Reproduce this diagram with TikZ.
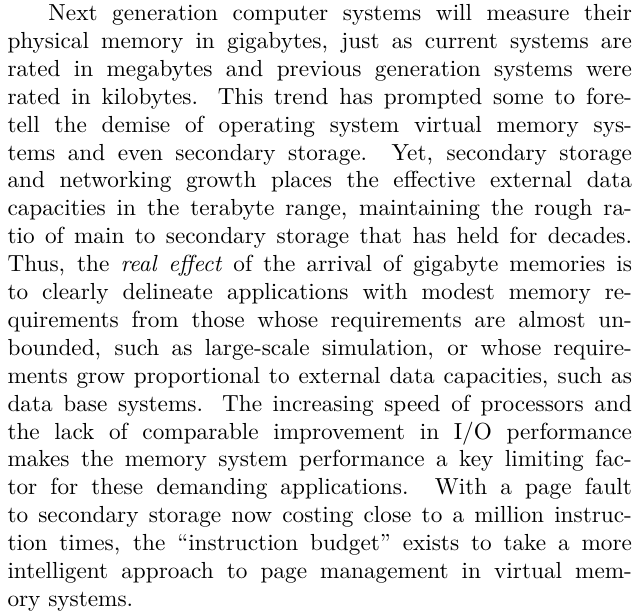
\documentclass[tikz,border=0pt]{standalone}
\newlength\pxu
\setlength\pxu{0.43011pt}
\tikzset{textline/.style={anchor=base west, inner sep=0pt, outer sep=0pt, font=\fontsize{10}{12}\selectfont}}
\newcommand\fulltextline[1]{\makebox[624.5\pxu][s]{#1}}
\begin{document}
\begin{tikzpicture}[x=0.43011pt, y=-0.43011pt]
\useasboundingbox (0,0) rectangle (640,613);
\node[textline] (l1) at (48.5,20.5) {\makebox[583.5\pxu][s]{Next generation computer systems will measure their}};
\node[textline] (l2) at (7.5,48.4) {\fulltextline{physical memory in gigabytes, just as current systems are}};
\node[textline] (l3) at (7.5,76.3) {\fulltextline{rated in megabytes and previous generation systems were}};
\node[textline] (l4) at (7.5,104.2) {\fulltextline{rated in kilobytes. This trend has prompted some to fore-}};
\node[textline] (l5) at (7.5,132.1) {\fulltextline{tell the demise of operating system virtual memory sys-}};
\node[textline] (l6) at (7.5,160.0) {\fulltextline{tems and even secondary storage. Yet, secondary storage}};
\node[textline] (l7) at (7.5,187.9) {\fulltextline{and networking growth places the effective external data}};
\node[textline] (l8) at (7.5,215.8) {\fulltextline{capacities in the terabyte range, maintaining the rough ra-}};
\node[textline] (l9) at (7.5,243.7) {\fulltextline{tio of main to secondary storage that has held for decades.}};
\node[textline] (l10) at (7.5,271.6) {\fulltextline{Thus, the \textit{real effect} of the arrival of gigabyte memories is}};
\node[textline] (l11) at (7.5,299.5) {\fulltextline{to clearly delineate applications with modest memory re-}};
\node[textline] (l12) at (7.5,327.4) {\fulltextline{quirements from those whose requirements are almost un-}};
\node[textline] (l13) at (7.5,355.3) {\fulltextline{bounded, such as large-scale simulation, or whose require-}};
\node[textline] (l14) at (7.5,383.2) {\fulltextline{ments grow proportional to external data capacities, such as}};
\node[textline] (l15) at (7.5,411.1) {\fulltextline{data base systems. The increasing speed of processors and}};
\node[textline] (l16) at (7.5,439.0) {\fulltextline{the lack of comparable improvement in I/O performance}};
\node[textline] (l17) at (7.5,466.9) {\fulltextline{makes the memory system performance a key limiting fac-}};
\node[textline] (l18) at (7.5,494.8) {\fulltextline{tor for these demanding applications. With a page fault}};
\node[textline] (l19) at (7.5,522.7) {\fulltextline{to secondary storage now costing close to a million instruc-}};
\node[textline] (l20) at (7.5,550.6) {\fulltextline{tion times, the ``instruction budget'' exists to take a more}};
\node[textline] (l21) at (7.5,578.5) {\fulltextline{intelligent approach to page management in virtual mem-}};
\node[textline] (l22) at (7.5,606.4) {ory systems.};
\end{tikzpicture}
\end{document}
